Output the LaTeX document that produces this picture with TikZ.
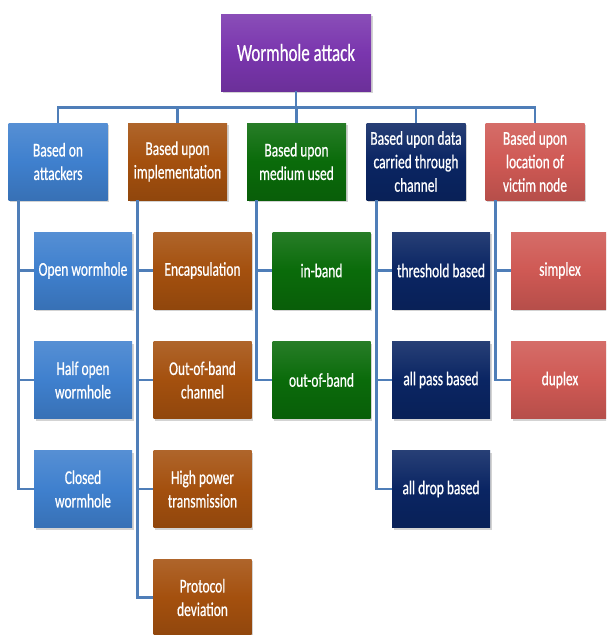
\documentclass[tikz,border=0pt]{standalone}
\usepackage{fontspec}
\newfontfamily\boxfont[FakeStretch=0.69, FakeBold=0.6]{Carlito}
\usetikzlibrary{shadows}
\definecolor{rootpurple}{HTML}{7A36AE}
\definecolor{attblue}{HTML}{3F80CE}
\definecolor{impbrown}{HTML}{A4500E}
\definecolor{medgreen}{HTML}{0A6B0A}
\definecolor{datnavy}{HTML}{0A2563}
\definecolor{locred}{HTML}{CF5954}
\definecolor{linkblue}{HTML}{4F7EB8}
\begin{document}
\begin{tikzpicture}[x=1pt, y=-1pt,
    category/.style ={rectangle, minimum width=99pt, minimum height=77pt, inner sep=0pt,
      text=white, align=center, font=\boxfont\fontsize{19.5}{23.5}\selectfont,
      drop shadow={shadow xshift=1.5pt, shadow yshift=-2pt, opacity=0.35}},
    boxcolor/.style ={top color=#1!88!white, bottom color=#1!88!black, middle color=#1},
    link/.style ={line width=2.8pt, draw=linkblue}]
   \clip (0,0) rectangle (606,635);
   \useasboundingbox (0,0) rectangle (606,635);

   \node[category, boxcolor=rootpurple, minimum width=150pt, font=\boxfont\fontsize{24.5}{29}\selectfont] (W) at (296,52.5) {Wormhole attack};

   \node[category, boxcolor=attblue] (A) at (58,161.5) {Based on\\attackers};
   \node[category, boxcolor=impbrown] (B) at (177.5,161.5) {Based upon\\implementation};
   \node[category, boxcolor=medgreen] (C) at (296.5,161.5) {Based upon\\medium used};
   \node[category, boxcolor=datnavy] (D) at (416,161.5) {Based upon data\\carried through\\channel};
   \node[category, boxcolor=locred] (E) at (535,161.5) {Based upon\\location of\\victim node};

   \node[category, boxcolor=attblue, minimum width=98pt] (A1) at (83,270.5) {Open wormhole};
   \node[category, boxcolor=attblue, minimum width=98pt] (A2) at (83,380) {Half open\\wormhole};
   \node[category, boxcolor=attblue, minimum width=98pt] (A3) at (83,489) {Closed\\wormhole};

   \node[category, boxcolor=impbrown, minimum width=98pt] (B1) at (202.5,270.5) {Encapsulation};
   \node[category, boxcolor=impbrown, minimum width=98pt] (B2) at (202.5,380) {Out-of-band\\channel};
   \node[category, boxcolor=impbrown, minimum width=98pt] (B3) at (202.5,489) {High power\\transmission};
   \node[category, boxcolor=impbrown, minimum width=98pt] (B4) at (202.5,597.5) {Protocol\\deviation};

   \node[category, boxcolor=medgreen, minimum width=98pt] (C1) at (321.5,270.5) {in-band};
   \node[category, boxcolor=medgreen, minimum width=98pt] (C2) at (321.5,380) {out-of-band};

   \node[category, boxcolor=datnavy, minimum width=98pt] (D1) at (441,270.5) {threshold based};
   \node[category, boxcolor=datnavy, minimum width=98pt] (D2) at (441,380) {all pass based};
   \node[category, boxcolor=datnavy, minimum width=98pt] (D3) at (441,489) {all drop based};

   \node[category, boxcolor=locred, minimum width=98pt] (E1) at (560,270.5) {simplex};
   \node[category, boxcolor=locred, minimum width=98pt] (E2) at (560,380) {duplex};

   \draw[link] (W.south) -- ++(0,16) -| (A.north);
   \draw[link] (W.south) -- ++(0,16) -| (B.north);
   \draw[link] (W.south) -- ++(0,16) -| (C.north);
   \draw[link] (W.south) -- ++(0,16) -| (D.north);
   \draw[link] (W.south) -- ++(0,16) -| (E.north);

   \draw[link] ([xshift=10pt]A.south west) |- (A1.west);
   \draw[link] ([xshift=10pt]A.south west) |- (A2.west);
   \draw[link] ([xshift=10pt]A.south west) |- (A3.west);
   \draw[link] ([xshift=10pt]B.south west) |- (B1.west);
   \draw[link] ([xshift=10pt]B.south west) |- (B2.west);
   \draw[link] ([xshift=10pt]B.south west) |- (B3.west);
   \draw[link] ([xshift=10pt]B.south west) |- (B4.west);
   \draw[link] ([xshift=10pt]C.south west) |- (C1.west);
   \draw[link] ([xshift=10pt]C.south west) |- (C2.west);
   \draw[link] ([xshift=10pt]D.south west) |- (D1.west);
   \draw[link] ([xshift=10pt]D.south west) |- (D2.west);
   \draw[link] ([xshift=10pt]D.south west) |- (D3.west);
   \draw[link] ([xshift=10pt]E.south west) |- (E1.west);
   \draw[link] ([xshift=10pt]E.south west) |- (E2.west);
 \end{tikzpicture}
\end{document}
